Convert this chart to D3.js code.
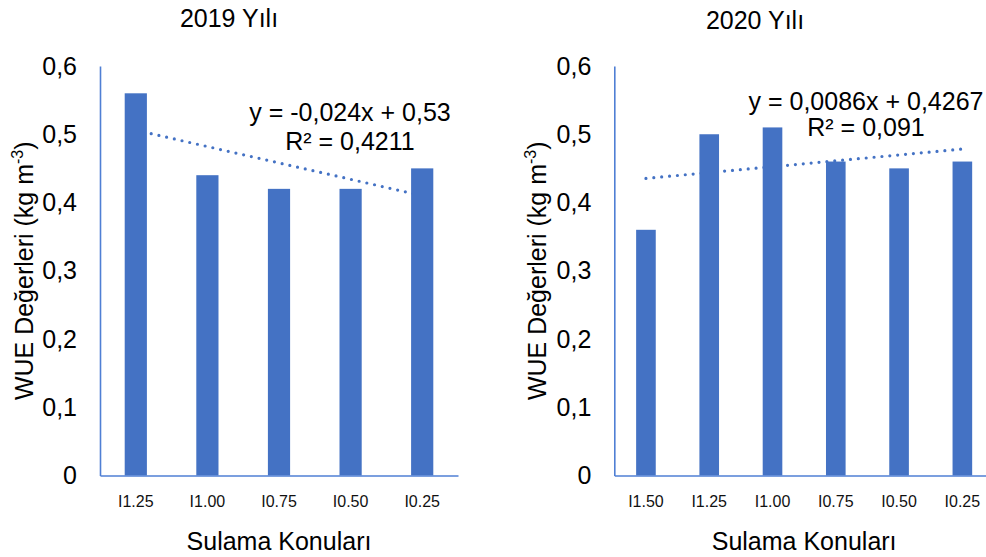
<!DOCTYPE html>
<html>
<head>
<meta charset="utf-8">
<script src="https://cdn.jsdelivr.net/npm/d3@7"></script>
<style>
  html, body { margin: 0; padding: 0; background: #fff; }
  svg { display: block; font-family: "Liberation Sans", Arial, sans-serif; }
</style>
</head>
<body>
<svg id="chart" width="986" height="557"></svg>
<script>
// WUE values per irrigation treatment, two seasons
const categories2019 = ["I1.25", "I1.00", "I0.75", "I0.50", "I0.25"];
const values2019 = [0.56, 0.44, 0.42, 0.42, 0.45];
const trend2019 = { slope: -0.024, intercept: 0.53, r2: 0.4211 };

const categories2020 = ["I1.50", "I1.25", "I1.00", "I0.75", "I0.50", "I0.25"];
const values2020 = [0.36, 0.50, 0.51, 0.46, 0.45, 0.46];
const trend2020 = { slope: 0.0086, intercept: 0.4267, r2: 0.091 };

const yTicks = [0, 0.1, 0.2, 0.3, 0.4, 0.5, 0.6];
const yMax = 0.6;

const BAR = "#4472C4";
const AXIS = "#4F7FD4";
const comma = v => String(v).replace(".", ",");
const tickFmt = d => d === 0 ? "0" : d.toFixed(1).replace(".", ",");

const svg = d3.select("#chart");

function panel(opts) {
  const { cats, vals, trend, title, x0, x1, yTop, yBottom,
          titleX, titleY, eqX, eqY1, eqY2, yTitleX, xTitleY } = opts;

  const g = svg.append("g");
  const x = d3.scaleBand().domain(cats).range([x0, x1])
    .paddingInner(0.69).paddingOuter(0.345);
  const y = d3.scaleLinear().domain([0, yMax]).range([yBottom, yTop]);
  const cx = c => x(c) + x.bandwidth() / 2;

  // title
  g.append("text").attr("x", titleX).attr("y", titleY)
    .attr("text-anchor", "middle").attr("font-size", 25).attr("fill", "#000")
    .text(title);

  // linear trendline (dotted), drawn beneath the bars
  const pts = cats.map((c, i) => [cx(c), y(trend.slope * (i + 1) + trend.intercept)]);
  const first = pts[0], last = pts[pts.length - 1];
  g.append("path")
    .attr("d", d3.line()([first, last]))
    .attr("fill", "none").attr("stroke", BAR).attr("stroke-width", 3.2)
    .attr("stroke-linecap", "round").attr("stroke-dasharray", "0 7.9");

  // bars
  g.append("g").selectAll("rect").data(vals).join("rect")
    .attr("x", (d, i) => x(cats[i]))
    .attr("width", x.bandwidth())
    .attr("y", d => y(d))
    .attr("height", d => y(0) - y(d))
    .attr("fill", BAR);

  // y axis
  const ya = g.append("g").attr("transform", `translate(${x0},0)`)
    .call(d3.axisLeft(y).tickValues(yTicks).tickFormat(tickFmt)
      .tickSize(0).tickSizeOuter(0).tickPadding(23));
  ya.select(".domain").attr("stroke", AXIS).attr("stroke-width", 1.6);
  ya.selectAll("text").attr("font-size", 25).attr("fill", "#000")
    .attr("font-family", "Liberation Sans, Arial, sans-serif");

  // x axis
  const xa = g.append("g").attr("transform", `translate(0,${yBottom})`)
    .call(d3.axisBottom(x).tickSize(0).tickSizeOuter(0).tickPadding(20));
  xa.select(".domain").attr("stroke", AXIS).attr("stroke-width", 1.6);
  xa.selectAll("text").attr("font-size", 16).attr("fill", "#111")
    .attr("font-family", "Liberation Sans, Arial, sans-serif");

  // trendline equation
  g.append("text").attr("x", eqX).attr("y", eqY1)
    .attr("text-anchor", "middle").attr("font-size", 25).attr("fill", "#000")
    .text(`y = ${comma(trend.slope)}x + ${comma(trend.intercept)}`);
  g.append("text").attr("x", eqX).attr("y", eqY2)
    .attr("text-anchor", "middle").attr("font-size", 25).attr("fill", "#000")
    .text(`R² = ${comma(trend.r2)}`);

  // axis titles
  const yt = g.append("text")
    .attr("transform", `translate(${yTitleX},${(yTop + yBottom) / 2}) rotate(-90)`)
    .attr("text-anchor", "middle").attr("font-size", 25).attr("fill", "#000");
  yt.append("tspan").text("WUE Değerleri (kg m");
  yt.append("tspan").attr("font-size", 16).attr("dy", -10).text("-3");
  yt.append("tspan").attr("dy", 10).text(")");

  g.append("text").attr("x", (x0 + x1) / 2).attr("y", xTitleY)
    .attr("text-anchor", "middle").attr("font-size", 25).attr("fill", "#000")
    .text("Sulama Konuları");
}

panel({
  cats: categories2019, vals: values2019, trend: trend2019, title: "2019 Yılı",
  x0: 100, x1: 458, yTop: 66, yBottom: 475.5,
  titleX: 229, titleY: 27, eqX: 350, eqY1: 121, eqY2: 150,
  yTitleX: 33, xTitleY: 550
});

panel({
  cats: categories2020, vals: values2020, trend: trend2020, title: "2020 Yılı",
  x0: 614.3, x1: 994, yTop: 66, yBottom: 475.5,
  titleX: 755, titleY: 29, eqX: 866, eqY1: 109.5, eqY2: 135.5,
  yTitleX: 546, xTitleY: 550
});
</script>
</body>
</html>
